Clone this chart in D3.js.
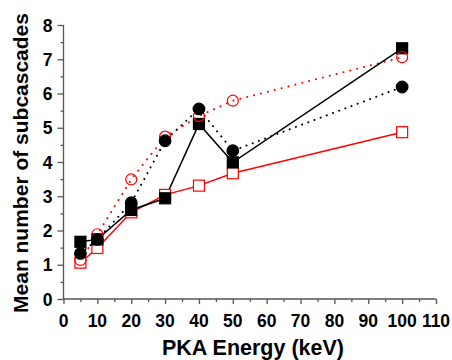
<!DOCTYPE html>
<html><head><meta charset="utf-8">
<script src="https://cdn.jsdelivr.net/npm/d3@7"></script>
<style>body{margin:0;background:#fff}svg{display:block}</style>
</head><body>
<svg id="c" width="452" height="360"></svg>
<script>
const energies = [5, 10, 20, 30, 40, 50, 100];
const blackSquares = [1.67, 1.74, 2.60, 2.94, 5.11, 3.99, 7.32];
const blackCircles = [1.33, 1.74, 2.81, 4.62, 5.55, 4.33, 6.19];
const redCircles   = [1.14, 1.89, 3.49, 4.74, 5.34, 5.79, 7.06];
const redSquares   = [1.06, 1.49, 2.53, 3.04, 3.31, 3.67, 4.87];
const xTicks = [0,10,20,30,40,50,60,70,80,90,100,110];
const yTicks = [0,1,2,3,4,5,6,7,8];

const svg = d3.select("#c");
const x = d3.scaleLinear().domain([0,110]).range([63.5,436]);
const y = d3.scaleLinear().domain([0,8]).range([299,25]);
const font = "'Liberation Sans', Arial, sans-serif";
const axisCol = "#555";

// axes
const gx = svg.append("g").attr("transform","translate(0,299)");
gx.call(d3.axisBottom(x).tickValues(d3.range(0,111,5)).tickSize(3).tickFormat(""));
gx.call(g=>g.selectAll(".tick line").filter(d=>d%10===0).attr("y2",5));
gx.select(".domain").attr("d",`M${x(0)},0H${x(110)}`);
gx.selectAll("path,line").attr("stroke",axisCol).attr("stroke-width",1.3);
gx.selectAll(".lbl").data(xTicks).enter().append("text")
  .attr("x",d=>x(d)).attr("y",28).attr("text-anchor","middle")
  .attr("font-family",font).attr("font-weight","bold").attr("font-size",17.5).attr("fill","#000")
  .text(d=>d);

const gy = svg.append("g").attr("transform","translate(63.5,0)");
gy.call(d3.axisLeft(y).tickValues(d3.range(0,8.01,0.5)).tickSize(3).tickFormat(""));
gy.call(g=>g.selectAll(".tick line").filter(d=>Math.abs(d-Math.round(d))<1e-6).attr("x2",-6));
gy.select(".domain").attr("d",`M0,${y(0)}V${y(8)}`);
gy.selectAll("path,line").attr("stroke",axisCol).attr("stroke-width",1.3);
gy.selectAll(".lbl").data(yTicks).enter().append("text")
  .attr("x",-11).attr("y",d=>y(d)+6.5).attr("text-anchor","end")
  .attr("font-family",font).attr("font-weight","bold").attr("font-size",17.5).attr("fill","#000")
  .text(d=>d);

svg.append("text").attr("x",253).attr("y",355).attr("text-anchor","middle")
  .attr("font-family",font).attr("font-weight","bold").attr("font-size",21.5).text("PKA Energy (keV)");
svg.append("text").attr("transform","translate(28,163) rotate(-90)").attr("text-anchor","middle")
  .attr("font-family",font).attr("font-weight","bold").attr("font-size",21).text("Mean number of subcascades");

const line = d3.line().x((d,i)=>x(energies[i])).y(d=>y(d));
function drawLine(vals,col,dash){
  svg.append("path").attr("d",line(vals)).attr("fill","none").attr("stroke",col)
    .attr("stroke-width",dash?2:1.5).attr("stroke-dasharray",dash||null)
    .attr("stroke-linecap",dash?"round":"butt");
}
drawLine(redSquares,"#f00",null);
drawLine(redCircles,"#f00","0.1,7");
drawLine(blackSquares,"#000",null);
drawLine(blackCircles,"#000","0.1,6.5");

function squares(vals,fill,stroke){
  svg.append("g").selectAll("rect").data(vals).enter().append("rect")
    .attr("x",(d,i)=>x(energies[i])-5.5).attr("y",d=>y(d)-5.5).attr("width",11).attr("height",11)
    .attr("fill",fill).attr("stroke",stroke).attr("stroke-width",1.2);
}
function circles(vals,fill,stroke,r){
  svg.append("g").selectAll("circle").data(vals).enter().append("circle")
    .attr("cx",(d,i)=>x(energies[i])).attr("cy",d=>y(d)).attr("r",r)
    .attr("fill",fill).attr("stroke",stroke).attr("stroke-width",1.2);
}
squares(redSquares,"#fff","#f00");
squares(blackSquares,"#000","#000");
circles(redCircles,"none","#f00",5.5);
circles(blackCircles,"#000","#000",5.8);
</script>
</body></html>
